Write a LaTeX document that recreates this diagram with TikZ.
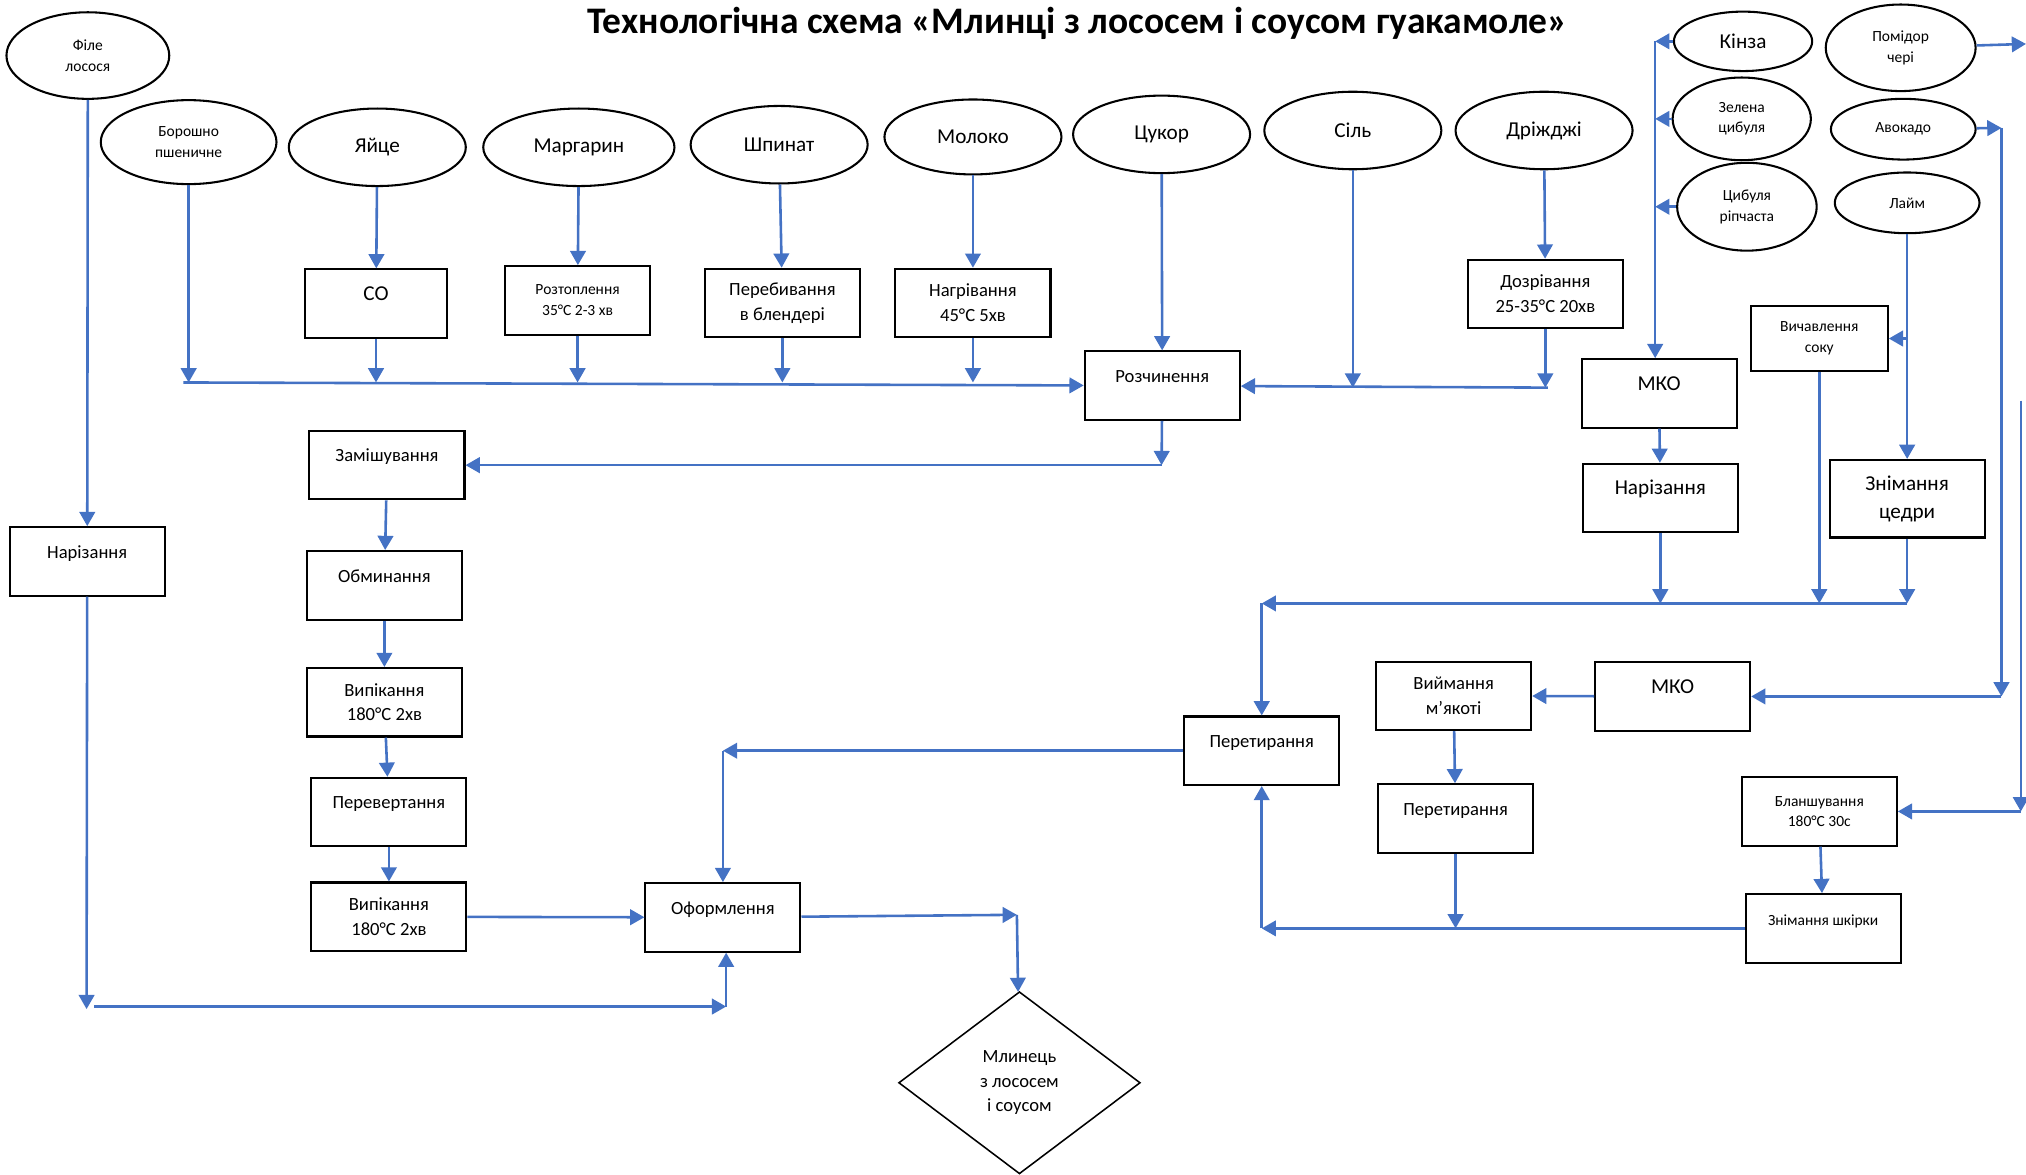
\documentclass[tikz,border=0pt]{standalone}
\usepackage{fontspec}
\setmainfont{Carlito}
\usetikzlibrary{shapes.geometric, arrows.meta}
\definecolor{flowblue}{HTML}{4472C4}

\begin{document}
\begin{tikzpicture}[
  x=0.5pt, y=-0.5pt,
  ingr/.style={ellipse, draw, line width=0.8pt, inner sep=0pt, align=center, minimum width=68.5pt, minimum height=30pt, font=\fontsize{8.2}{10.5}\selectfont},
  ingrsm/.style={ingr, font=\fontsize{6}{8}\selectfont},
  proc/.style={rectangle, draw, line width=0.8pt, minimum width=60pt, minimum height=26.5pt, inner sep=1pt, align=center, font=\fontsize{7.2}{9.6}\selectfont},
  procsm/.style={proc, font=\fontsize{6}{8}\selectfont},
  procbig/.style={proc, font=\fontsize{8.2}{11}\selectfont},
  upper/.style={text height=6pt, text depth=8.5pt},
  arr/.style={draw=flowblue, line width=1pt, -{Triangle[length=5.5pt,width=6pt]}}
]
\useasboundingbox (0,0) rectangle (1568,909);

\node[font=\fontsize{14.5}{16}\selectfont\bfseries] (title) at (834,18) {Технологічна схема «Млинці з лососем і соусом гуакамоле»};

\node[ingrsm, minimum width=63pt, minimum height=33.5pt] (file) at (68,43) {Філе\\лосося};
\node[ingrsm, minimum width=68pt, minimum height=32.5pt] (borosh) at (146,110) {Борошно\\пшеничне};
\node[ingr] (yaitse) at (292,114) {Яйце};
\node[ingr, minimum width=74pt] (marg) at (448,114) {Маргарин};
\node[ingr] (shpynat) at (603,112) {Шпинат};
\node[ingr, minimum height=29pt] (moloko) at (753,106) {Молоко};
\node[ingr] (tsukor) at (899,104) {Цукор};
\node[ingr] (sil) at (1047,101) {Сіль};
\node[ingr] (drizh) at (1195,101) {Дріжджі};
\node[ingr, minimum width=53.5pt, minimum height=23pt] (kinza) at (1349,32) {Кінза};
\node[ingrsm, minimum width=53.5pt, minimum height=32pt] (zelena) at (1348,92) {Зелена\\цибуля};
\node[ingrsm, minimum width=54pt, minimum height=34pt] (ripch) at (1352,160) {Цибуля\\ріпчаста};
\node[ingrsm, minimum width=58pt, minimum height=33.5pt] (pomidor) at (1471,37) {Помідор\\чері};
\node[ingrsm, minimum width=56pt, minimum height=23.5pt] (avokado) at (1473,100) {Авокадо};
\node[ingrsm, minimum width=56pt, minimum height=23.5pt] (laim) at (1476,157) {Лайм};

\node[procbig, upper, minimum width=55pt] (so) at (291,235) {СО};
\node[procsm, minimum width=56pt] (rozt) at (447,232.5) {Розтоплення\\35°C 2-3 хв};
\node[proc] (pereb) at (605.5,234.5) {Перебивання\\в блендері};
\node[proc] (nagr) at (753,234.5) {Нагрівання\\45°C 5хв};
\node[proc, upper] (rozch) at (899.5,298.5) {Розчинення};
\node[proc] (dozr) at (1196,227.5) {Дозрівання\\25-35°C 20хв};
\node[procbig, upper] (mko1) at (1284,304.5) {МКО};
\node[procsm, minimum width=53pt, minimum height=25pt] (vych) at (1408,262) {Вичавлення\\соку};
\node[proc, upper] (nar1) at (67.5,434.5) {Нарізання};
\node[proc, upper] (zamish) at (299.5,360) {Замішування};
\node[proc, upper] (obmyn) at (297.5,453) {Обминання};
\node[proc] (vyp1) at (297.5,543.5) {Випікання\\180°C 2хв};
\node[proc, upper] (perev) at (301,628.5) {Перевертання};
\node[proc] (vyp2) at (301,709.5) {Випікання\\180°C 2хв};
\node[proc, upper] (oform) at (559.5,710) {Оформлення};
\node[procbig, upper] (nar2) at (1285,385.5) {Нарізання};
\node[procbig, minimum height=30pt] (tsedra) at (1476,386) {Знімання\\цедри};
\node[proc, upper] (peret1) at (976.5,581) {Перетирання};
\node[proc] (vyim) at (1125,538.5) {Виймання\\м’якоті};
\node[procbig, upper] (mko2) at (1294.5,539) {МКО};
\node[proc, upper] (peret2) at (1126.5,633.5) {Перетирання};
\node[procsm] (blansh) at (1408,628) {Бланшування\\180°C 30с};
\node[procsm, upper] (shkirka) at (1411,718.5) {Знімання шкірки};
\node[diamond, draw, line width=0.6pt, minimum width=93.5pt, minimum height=70.5pt, inner sep=0pt, align=center, font=\fontsize{7.2}{9.5}\selectfont] (mlynets) at (789,838) {Млинець\\з лососем\\і соусом};

\coordinate (colL) at (142,296);
\coordinate (colR) at (1198,300);
\coordinate (back) at (899,360);
\coordinate (fileEnd) at (67,781);
\coordinate (fileRun) at (73,779);
\coordinate (ofIn) at (562,779);
\coordinate (ofOut) at (787,708);
\coordinate (greens) at (1281,32);
\coordinate (sauce) at (1476,467);
\coordinate (avoTop) at (1549,99);
\coordinate (avoBot) at (1549,539);
\coordinate (tomEnd) at (1568,34);
\coordinate (tomTop) at (1564,310);
\coordinate (tomBot) at (1564,628);

\draw[arr] (file) -- (nar1);
\draw[arr] (nar1) -- (fileEnd);
\draw[arr] (fileRun) -- (ofIn);
\draw[arr] (ofIn) -- (ofIn |- oform.south);
\draw[arr] (borosh) -- (borosh |- colL);
\draw[arr] (colL) -- (rozch);
\draw[arr] (yaitse) -- (so);
\draw[arr] (so) -- (so |- colL);
\draw[arr] (marg) -- (rozt);
\draw[arr] (rozt) -- (rozt |- colL);
\draw[arr] (shpynat) -- (pereb);
\draw[arr] (pereb) -- (pereb |- colL);
\draw[arr] (moloko) -- (nagr);
\draw[arr] (nagr) -- (nagr |- colL);
\draw[arr] (tsukor) -- (rozch);
\draw[arr] (sil) -- (sil |- colR);
\draw[arr] (drizh) -- (dozr);
\draw[arr] (dozr) -- (dozr |- colR);
\draw[arr] (colR) -- (rozch);
\draw[arr] (rozch) -- (back);
\draw[arr] (back) -- (zamish);
\draw[arr] (zamish) -- (obmyn);
\draw[arr] (obmyn) -- (vyp1);
\draw[arr] (vyp1) -- (perev);
\draw[arr] (perev) -- (vyp2);
\draw[arr] (vyp2) -- (oform);
\draw[arr] (oform) -- (ofOut);
\draw[arr] (ofOut) -- (mlynets);

\draw[arr] (kinza) -- (greens);
\draw[arr] (zelena) -- (zelena -| greens);
\draw[arr] (ripch) -- (ripch -| greens);
\draw[arr] (greens) -- (greens |- mko1.north);
\draw[arr] (mko1) -- (nar2);
\draw[arr] (nar2) -- (nar2 |- sauce);
\draw[arr] (vych) -- (vych |- sauce);
\draw[arr] (laim) -- (tsedra);
\draw[arr] (laim |- vych) -- (vych);
\draw[arr] (tsedra) -- (sauce);
\draw[arr] (sauce) -- (sauce -| peret1);
\draw[arr] (sauce -| peret1) -- (peret1);
\draw[arr] (peret1) -- (peret1 -| oform);
\draw[arr] (peret1 -| oform) -- (oform);
\draw[arr] (avokado) -- (avoTop);
\draw[arr] (avoTop) -- (avoBot);
\draw[arr] (avoBot) -- (mko2);
\draw[arr] (mko2) -- (vyim);
\draw[arr] (vyim) -- (peret2);
\draw[arr] (peret2) -- (peret2 |- shkirka);
\draw[arr] (shkirka) -- (shkirka -| peret1);
\draw[arr] (shkirka -| peret1) -- (peret1);
\draw[arr] (pomidor) -- (tomEnd);
\draw[arr] (tomTop) -- (tomBot);
\draw[arr] (tomBot) -- (blansh);
\draw[arr] (blansh) -- (shkirka);

\end{tikzpicture}
\end{document}
